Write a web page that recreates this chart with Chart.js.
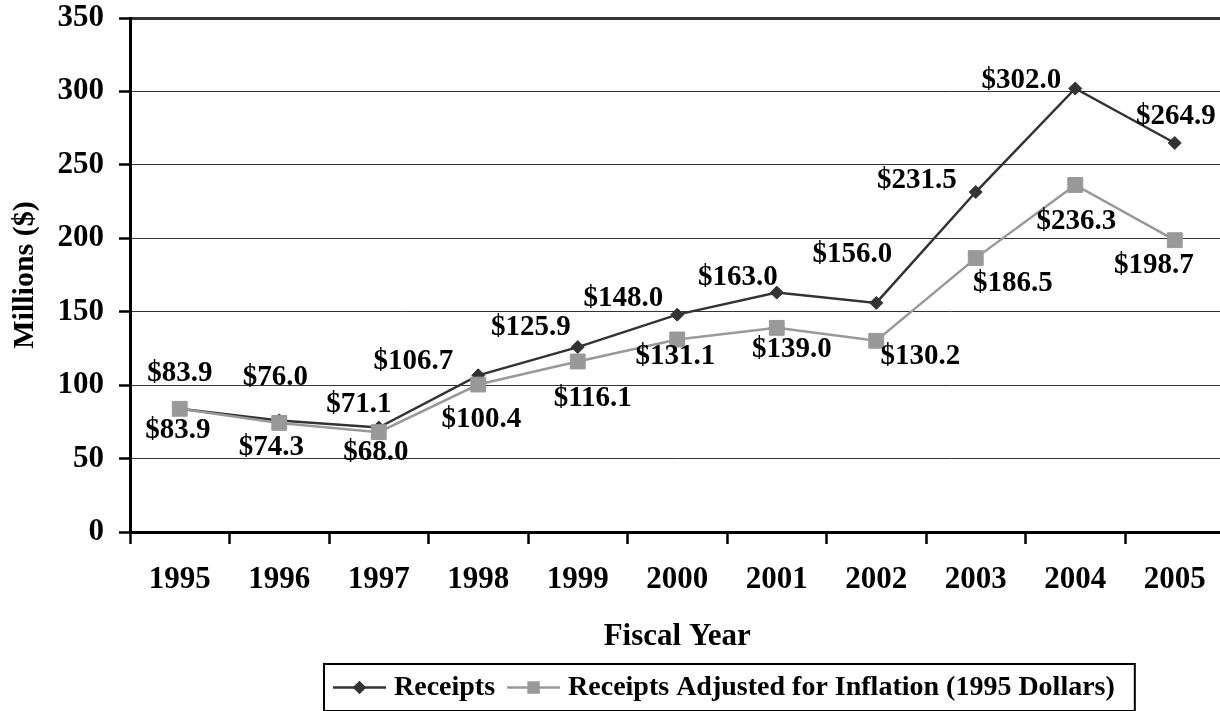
<!DOCTYPE html>
<html>
<head>
<meta charset="utf-8">
<script src="https://cdn.jsdelivr.net/npm/chart.js@4.4.0/dist/chart.umd.min.js"></script>
<style>
  html, body { margin: 0; padding: 0; background: #fff; overflow: hidden; }
  #wrap { width: 1220px; height: 711px; overflow: hidden; position: relative; }
</style>
</head>
<body>
<div id="wrap"><canvas id="myChart" width="1236" height="711"></canvas></div>
<script>
const years = ['1995', '1996', '1997', '1998', '1999', '2000', '2001', '2002', '2003', '2004', '2005'];
const receipts = [83.9, 76.0, 71.1, 106.7, 125.9, 148.0, 163.0, 156.0, 231.5, 302.0, 264.9];
const adjusted = [83.9, 74.3, 68.0, 100.4, 116.1, 131.1, 139.0, 130.2, 186.5, 236.3, 198.7];
const seriesNames = ['Receipts', 'Receipts Adjusted for Inflation (1995 Dollars)'];

// where each value label sits, relative to its point (px)
const receiptsLabelShift = [[0, -35], [-4, -43], [-20, -23], [-65, -14], [-47, -20], [-54, -16],
  [-39, -15], [-24, -48], [-59, -12], [-54, -8], [1, -26]];
const adjustedLabelShift = [[-2, 22], [-8, 25], [-3, 20], [3, 35], [15, 37], [-2, 17],
  [15, 22], [44, 16], [37, 25], [1, 37], [-21, 25]];

const serif = '"Liberation Serif", "Times New Roman", serif';
const dark = '#333333';
const light = '#999999';

const valueLabels = {
  id: 'valueLabels',
  afterDatasetsDraw(chart) {
    const ctx = chart.ctx;
    ctx.save();
    ctx.font = 'bold 29px ' + serif;
    ctx.fillStyle = '#000';
    ctx.textAlign = 'center';
    ctx.textBaseline = 'middle';
    chart.data.datasets.forEach((ds, di) => {
      const meta = chart.getDatasetMeta(di);
      meta.data.forEach((pt, i) => {
        const s = ds.labelShift[i];
        ctx.fillText('$' + ds.data[i].toFixed(1), pt.x + s[0], pt.y + s[1]);
      });
    });
    ctx.restore();
  }
};

// boxed legend with line + marker samples, like the original
const boxedLegend = {
  id: 'boxedLegend',
  afterDraw(chart) {
    const ctx = chart.ctx;
    const area = chart.chartArea;
    const left = area.left + 194;
    const top = area.bottom + 132;
    const h = 47;
    const lineLen = 53, gap = 8, itemGap = 12, padL = 9, padR = 20;
    ctx.save();
    ctx.font = 'bold 28px ' + serif;
    let x = left + padL;
    const cy = top + h / 2;
    chart.data.datasets.forEach((ds, i) => {
      ctx.strokeStyle = ds.borderColor;
      ctx.lineWidth = 2.5;
      ctx.beginPath();
      ctx.moveTo(x, cy);
      ctx.lineTo(x + lineLen, cy);
      ctx.stroke();
      ctx.fillStyle = ds.backgroundColor;
      ctx.strokeStyle = ds.borderColor;
      Chart.helpers.drawPoint(ctx, {
        pointStyle: ds.pointStyle,
        radius: i === 0 ? 5 : 7,
        borderWidth: 1
      }, x + lineLen / 2, cy);
      x += lineLen + gap;
      ctx.fillStyle = '#000';
      ctx.textAlign = 'left';
      ctx.textBaseline = 'middle';
      ctx.fillText(ds.label, x, cy);
      x += ctx.measureText(ds.label).width;
      if (i < chart.data.datasets.length - 1) x += itemGap;
    });
    x += padR;
    ctx.strokeStyle = '#000';
    ctx.lineWidth = 2;
    ctx.strokeRect(left, top, x - left, h);
    ctx.restore();
  }
};

const ctx = document.getElementById('myChart');
const chart = new Chart(ctx, {
  type: 'line',
  data: {
    labels: years,
    datasets: [
      {
        label: seriesNames[0],
        data: receipts,
        labelShift: receiptsLabelShift,
        borderColor: dark,
        backgroundColor: dark,
        borderWidth: 2.5,
        pointStyle: 'rectRot',
        pointRadius: 6.5,
        pointBorderWidth: 1,
        tension: 0,
        order: 2
      },
      {
        label: seriesNames[1],
        data: adjusted,
        labelShift: adjustedLabelShift,
        borderColor: light,
        backgroundColor: light,
        borderWidth: 2.5,
        pointStyle: 'rect',
        pointRadius: 10.5,
        pointBorderWidth: 1,
        tension: 0,
        order: 1
      }
    ]
  },
  options: {
    responsive: false,
    animation: false,
    layout: { padding: { top: 18, right: 0, bottom: 51, left: 0 } },
    plugins: {
      legend: { display: false },
      tooltip: { enabled: false }
    },
    scales: {
      x: {
        offset: true,
        ticks: {
          color: '#000',
          font: { family: serif, size: 31, weight: 'bold' },
          padding: 17,
          maxRotation: 0,
          autoSkip: false
        },
        grid: {
          offset: true,
          drawOnChartArea: false,
          tickLength: 12,
          tickWidth: 2.5,
          tickColor: '#000'
        },
        border: { color: '#000', width: 3 },
        title: {
          display: true,
          text: 'Fiscal Year',
          color: '#000',
          font: { family: serif, size: 31, weight: 'bold' },
          padding: { top: 0, bottom: 4 }
        },
        afterFit: (s) => {
          s.height = 128;
          s.paddingLeft = 0;
          s.paddingRight = 0;
        }
      },
      y: {
        min: 0,
        max: 350,
        ticks: {
          stepSize: 50,
          color: '#000',
          font: { family: serif, size: 31, weight: 'bold' },
          padding: 15
        },
        grid: {
          color: '#333',
          lineWidth: (c) => (c.tick && c.tick.value === 350 ? 3 : 1),
          tickLength: 11,
          tickWidth: 2.5,
          tickColor: '#000'
        },
        border: { color: '#000', width: 3 },
        title: {
          display: true,
          text: 'Millions ($)',
          color: '#000',
          font: { family: serif, size: 30, weight: 'bold' },
          padding: { top: 7, bottom: 0 }
        },
        afterFit: (s) => {
          s.width = 130;
          s.paddingTop = 0;
        }
      }
    }
  },
  plugins: [valueLabels, boxedLegend]
});
</script>
</body>
</html>
